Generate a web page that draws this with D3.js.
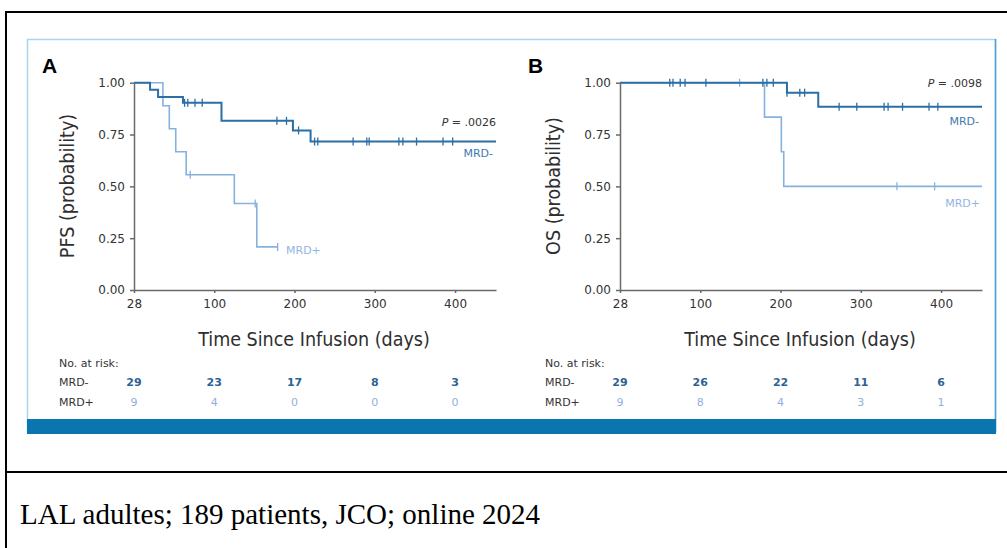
<!DOCTYPE html>
<html lang="en">
<head>
  <meta charset="UTF-8">
  <title>KM curves MRD</title>
  <script src="https://d3js.org/d3.v7.min.js"></script>
  <style>
    body { margin: 0; background: #fff; }
    svg { display: block; }
    .axis path, .axis line { stroke: #6a6a6a; stroke-width: 1.5; }
    .axis text { font-family: "DejaVu Sans", sans-serif; font-size: 12px; fill: #333; }
    .title { font-family: "Liberation Sans Narrow", "DejaVu Sans Condensed", sans-serif; font-size: 19.5px; fill: #2e2e2e; }
    .small { font-family: "DejaVu Sans", sans-serif; font-size: 11px; }
  </style>
</head>
<body>
  <svg id="fig" width="1007" height="548"></svg>
  <script>
    // axis ticks
    const xTickVals = [0, 100, 200, 300, 400];
    const xTickLabels = ["28", "100", "200", "300", "400"];
    const yTicks = [0, 0.25, 0.5, 0.75, 1];

    // A: PFS
    const pfsNegTimes = [0, 20, 30, 61, 109, 198, 220, 451];
    const pfsNegSurv = [1, 0.966, 0.931, 0.903, 0.816, 0.77, 0.716, 0.716];
    const pfsNegCens = [63, 67, 76, 85, 178, 190, 205, 225, 229, 273, 290, 293, 330, 335, 352, 385, 397];
    const pfsPosTimes = [0, 36, 44, 52, 65, 125, 153, 179];
    const pfsPosSurv = [1, 0.889, 0.778, 0.667, 0.556, 0.417, 0.208, 0.208];
    const pfsPosCens = [70, 151, 179];

    // B: OS
    const osNegTimes = [0, 208, 247, 451];
    const osNegSurv = [1, 0.952, 0.884, 0.884];
    const osNegCens = [62, 66, 75, 81, 107, 178, 183, 191, 208, 224, 230, 273, 295, 329, 334, 352, 385, 396];
    const osPosTimes = [0, 180, 201, 204, 451];
    const osPosSurv = [1, 0.834, 0.667, 0.5, 0.5];
    const osPosCens = [149, 345, 392];

    // numbers at risk
    const riskLabels = ["MRD-", "MRD+"];
    const riskA = [[29, 23, 17, 8, 3], [9, 4, 0, 0, 0]];
    const riskB = [[29, 26, 22, 11, 6], [9, 8, 4, 3, 1]];

    const darkBlue = "#2c6ea6";
    const lightBlue = "#86b2df";

    const svg = d3.select("#fig");

    // outer table frame
    svg.append("line").attr("x1", 6).attr("x2", 6).attr("y1", 11).attr("y2", 548)
      .attr("stroke", "#000").attr("stroke-width", 2);
    svg.append("line").attr("x1", 5).attr("x2", 1007).attr("y1", 12).attr("y2", 12)
      .attr("stroke", "#000").attr("stroke-width", 2);
    svg.append("line").attr("x1", 5).attr("x2", 1007).attr("y1", 472).attr("y2", 472)
      .attr("stroke", "#000").attr("stroke-width", 2);

    // figure frame
    svg.append("rect").attr("x", 27.5).attr("y", 39.5).attr("width", 968).attr("height", 392)
      .attr("fill", "none").attr("stroke", "#a8d4ee").attr("stroke-width", 1.5);
    svg.append("line").attr("x1", 995.5).attr("x2", 995.5).attr("y1", 39).attr("y2", 432)
      .attr("stroke", "#4d9fd4").attr("stroke-width", 1.5);
    svg.append("rect").attr("x", 27).attr("y", 419).attr("width", 969).attr("height", 15)
      .attr("fill", "#0a75ae");

    svg.append("text").attr("x", 20).attr("y", 524)
      .attr("font-family", "Liberation Serif, serif").attr("font-size", 29)
      .attr("fill", "#000").text("LAL adultes; 189 patients, JCO; online 2024");

    const panels = [
      { x0: 134, letter: "A", ylab: "PFS (probability)", p: "= .0026", pY: 126,
        neg: [pfsNegTimes, pfsNegSurv, pfsNegCens], pos: [pfsPosTimes, pfsPosSurv, pfsPosCens],
        negLab: [493, 157], posLab: [286, 254, "start"], risk: riskA },
      { x0: 620, letter: "B", ylab: "OS (probability)", p: "= .0098", pY: 87,
        neg: [osNegTimes, osNegSurv, osNegCens], pos: [osPosTimes, osPosSurv, osPosCens],
        negLab: [979, 125], posLab: [980, 207, "end"], risk: riskB }
    ];

    function survAt(times, surv, t) {
      let s = surv[0];
      times.forEach((tt, i) => { if (tt <= t) s = surv[i]; });
      return s;
    }

    panels.forEach(p => {
      const x = d3.scaleLinear().domain([0, 451]).range([p.x0, p.x0 + 362]);
      const y = d3.scaleLinear().domain([0, 1]).range([290, 82.7]);
      const g = svg.append("g");

      g.append("g").attr("class", "axis")
        .attr("transform", `translate(0,${y(0)})`)
        .call(d3.axisBottom(x).tickValues(xTickVals).tickFormat((d, i) => xTickLabels[i])
          .tickSize(3).tickSizeOuter(0).tickPadding(6));
      g.append("g").attr("class", "axis")
        .attr("transform", `translate(${x(0)},0)`)
        .call(d3.axisLeft(y).tickValues(yTicks).tickFormat(d3.format(".2f"))
          .tickSize(4).tickSizeOuter(0).tickPadding(5));
      g.selectAll(".axis .domain").attr("stroke-width", 1.5);

      g.append("text").attr("x", p.x0 - 92).attr("y", 73)
        .attr("font-family", "Liberation Sans, Arial, sans-serif").attr("font-weight", "bold")
        .attr("font-size", 21).text(p.letter);

      g.append("text").attr("class", "title").attr("text-anchor", "middle")
        .attr("x", x(0) + 180).attr("y", 346).text("Time Since Infusion (days)");
      g.append("text").attr("class", "title").attr("text-anchor", "middle")
        .attr("transform", `translate(${p.x0 - 60},186) rotate(-90)`).text(p.ylab);

      const line = d3.line().x(d => x(d[0])).y(d => y(d[1])).curve(d3.curveStepAfter);

      [[p.pos, lightBlue, 1.6], [p.neg, darkBlue, 2]].forEach(([s, col, w]) => {
        const pts = s[0].map((t, i) => [t, s[1][i]]);
        g.append("path").attr("d", line(pts)).attr("fill", "none")
          .attr("stroke", col).attr("stroke-width", w);
        g.selectAll(null).data(s[2]).enter().append("line")
          .attr("x1", d => x(d)).attr("x2", d => x(d))
          .attr("y1", d => y(survAt(s[0], s[1], d)) - 4)
          .attr("y2", d => y(survAt(s[0], s[1], d)) + 4)
          .attr("stroke", col).attr("stroke-width", 1.3);
      });

      const pt = g.append("text").attr("class", "small").attr("text-anchor", "end")
        .attr("x", x(451)).attr("y", p.pY).attr("fill", "#333");
      pt.append("tspan").attr("font-style", "italic").text("P ");
      pt.append("tspan").text(p.p);

      g.append("text").attr("class", "small").attr("text-anchor", "end")
        .attr("x", p.negLab[0]).attr("y", p.negLab[1]).attr("fill", "#3d7ab0").text("MRD-");
      g.append("text").attr("class", "small").attr("text-anchor", p.posLab[2])
        .attr("x", p.posLab[0]).attr("y", p.posLab[1]).attr("fill", "#93b5df").text("MRD+");

      // risk table
      g.append("text").attr("class", "small").attr("x", p.x0 - 75).attr("y", 367)
        .attr("fill", "#333").text("No. at risk:");
      riskLabels.forEach((lab, r) => {
        const yy = 386 + r * 20;
        g.append("text").attr("class", "small").attr("x", p.x0 - 75).attr("y", yy)
          .attr("fill", "#333").text(lab);
        g.selectAll(null).data(p.risk[r]).enter().append("text")
          .attr("class", "small").attr("text-anchor", "middle")
          .attr("x", (d, i) => x(xTickVals[i])).attr("y", yy)
          .attr("fill", r === 0 ? "#2d6394" : "#8fb0dc")
          .attr("font-weight", r === 0 ? "bold" : "normal")
          .text(d => d);
      });
    });
  </script>
</body>
</html>
